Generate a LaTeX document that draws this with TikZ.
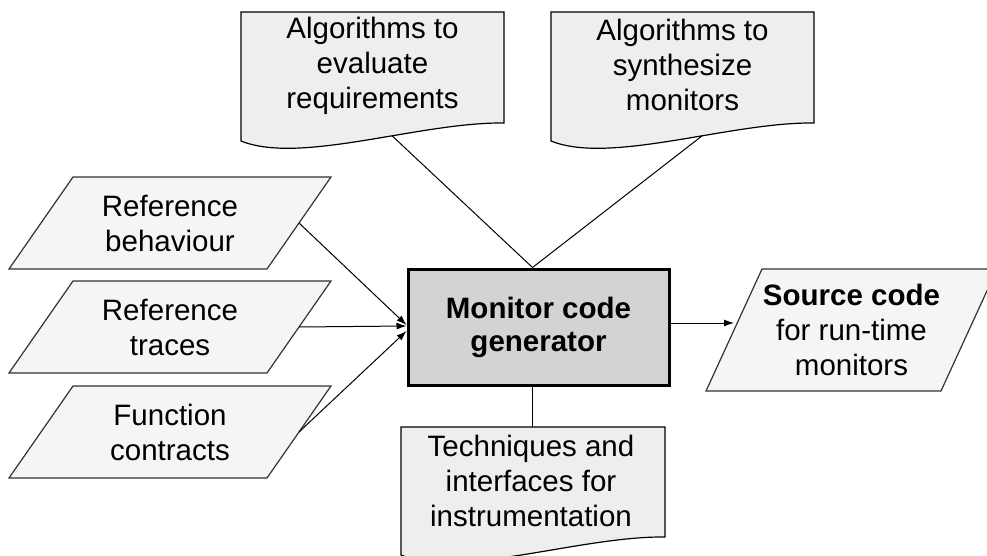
\documentclass[tikz,border=0pt]{standalone}
\usepackage{fontspec}
\setmainfont{Liberation Sans}
\usetikzlibrary{arrows.meta,backgrounds}

\definecolor{parafill}{HTML}{F5F5F5}
\definecolor{docfill}{HTML}{EEEEEE}
\definecolor{genfill}{HTML}{D3D3D3}
\definecolor{paraline}{HTML}{333333}

% Document symbol with a wavy bottom edge.
% #1 left x, #2 top y, #3 right x, #4 bottom y at left, #5 bottom y at right, #6 name
\newcommand{\docshape}[6]{%
  \path[docbox] (#1,#2) -- ({(#1+#3)/2},#2) coordinate (#6-top) -- (#3,#2) -- (#3,#5)
    .. controls ({#1+0.68*(#3-#1)},{#5-1}) and ({#1+0.225*(#3-#1)},{#4+24}) .. (#1,#4)
    coordinate[pos=0.4] (#6-tail) -- cycle;
}

% Parallelogram drawn around a (borderless) node; #2 is half the slant offset
\newcommand{\paraframe}[2]{%
  \draw[parabox] ([xshift=#2]#1.north west) -- ([xshift=#2]#1.north east)
    -- ([xshift=-#2]#1.south east) -- ([xshift=-#2]#1.south west) -- cycle;
}

\tikzset{
  docbox/.style={fill=docfill, draw=black, line width=1.2pt},
  parabox/.style={fill=parafill, draw=paraline, line width=1.2pt},
  paranode/.style={inner sep=0pt, outer sep=0pt, minimum width=258pt, minimum height=92pt},
  doctext/.style={inner sep=0pt},
  genbox/.style={draw=black, fill=genfill, line width=3pt, inner sep=0pt,
    minimum width=261pt, minimum height=116pt,
    font=\fontsize{29.5}{33}\selectfont\bfseries},
  link/.style={draw=black, line width=1pt},
  arr/.style={link, -{Latex[length=10pt,width=7pt]}},
}

\begin{document}
\begin{tikzpicture}[x=1pt, y=-1pt,
  every node/.append style={align=center, font=\fontsize{29.5}{35}\selectfont}]
  \useasboundingbox (0,0) rectangle (987,556);
  \clip (0,0) rectangle (987,556);

  % documents on top and below
  \docshape{241}{12}{504}{141}{123}{d1}
  \docshape{551}{12}{814}{141}{123}{d2}
  \docshape{401}{427}{665}{555}{537}{d3}
  \node[doctext] (t1) at (372.5,66) {Algorithms to\\evaluate\\requirements};
  \node[doctext] (t2) at (682.5,65) {Algorithms to\\synthesize\\monitors};
  \node[doctext] (t3) at (531,481) {Techniques and\\interfaces for\\instrumentation};

  % inputs
  \node[paranode] (p1) at (170,223) {Reference\\behaviour};
  \node[paranode] (p2) at (170,327) {Reference\\traces};
  \node[paranode] (p3) at (170,432) {Function\\contracts};

  % output
  \node[paranode, minimum width=235pt, minimum height=122pt] (out) at (851.5,330)
    {\textbf{Source code}\\for run-time\\monitors};

  \begin{scope}[on background layer]
    \paraframe{p1}{32pt}
    \paraframe{p2}{32pt}
    \paraframe{p3}{32pt}
    \paraframe{out}{28pt}
  \end{scope}

  % generator
  \node[genbox] (gen) at (538.5,327) {Monitor code\\generator};

  % connectors
  \draw[link] (d1-tail) -- ([xshift=-6pt]gen.north);
  \draw[link] (d2-tail) -- ([xshift=-6pt]gen.north);
  \draw[link] ([xshift=-6pt]gen.south) -- ([xshift=-6pt]gen.south |- d3-top);
  \draw[arr] (p1.east) -- ([yshift=2pt]gen.west);
  \draw[arr] (p2.east) -- ([yshift=1pt]gen.west);
  \draw[arr] (p3.east) -- ([yshift=-4pt]gen.west);
  \draw[arr] ([yshift=4pt]gen.east) -- ([yshift=4pt]gen.east -| out.176);
\end{tikzpicture}
\end{document}
